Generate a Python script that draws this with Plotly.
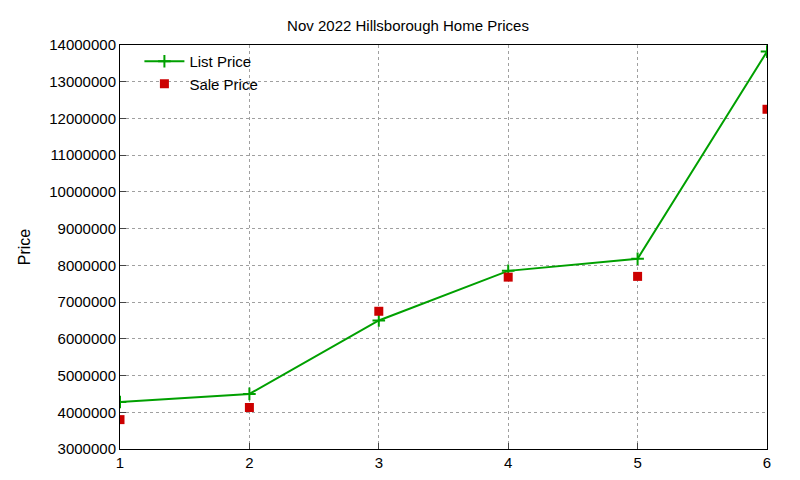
import plotly.graph_objects as go

x = [1, 2, 3, 4, 5, 6]
list_price = [4280000, 4500000, 6500000, 7850000, 8180000, 13820000]
sale_price = [3800000, 4130000, 6750000, 7680000, 7700000, 12250000]
yticks = list(range(3000000, 14000001, 1000000))

fig = go.Figure()
fig.add_trace(go.Scatter(x=x, y=list_price, mode="lines+markers", name="List Price",
                         line=dict(color="#00a000", width=2),
                         marker=dict(symbol="cross-thin", size=9, line=dict(color="#00a000", width=2))))
fig.add_trace(go.Scatter(x=x, y=sale_price, mode="markers", name="Sale Price",
                         marker=dict(symbol="square", size=9, color="#cc0000")))
ax = dict(showline=True, linecolor="black", mirror=True, ticks="inside", ticklen=6,
          showgrid=True, gridcolor="#a0a0a0", griddash="dot", gridwidth=1, zeroline=False,
          tickfont=dict(size=15, color="black"))
fig.update_xaxes(range=[1, 6], tickvals=x, **ax)
fig.update_yaxes(range=[3000000, 14000000], tickvals=yticks, ticktext=[str(v) for v in yticks],
                 title=dict(text="Price", font=dict(size=16, color="black"), standoff=14), **ax)
fig.update_layout(
    width=800, height=480, plot_bgcolor="white", paper_bgcolor="white",
    font=dict(family="Liberation Sans, Arial", size=15, color="black"),
    title=dict(text="Nov 2022 Hillsborough Home Prices", x=0.5, y=0.975, yanchor="top", font=dict(size=15)),
    margin=dict(l=112, r=41, t=37, b=39),
    showlegend=True,
    legend=dict(x=0.03, y=1.0, xanchor="left", yanchor="top", bgcolor="rgba(0,0,0,0)",
                font=dict(size=15), tracegroupgap=0, itemwidth=40),
)
fig.write_html("out.html")
